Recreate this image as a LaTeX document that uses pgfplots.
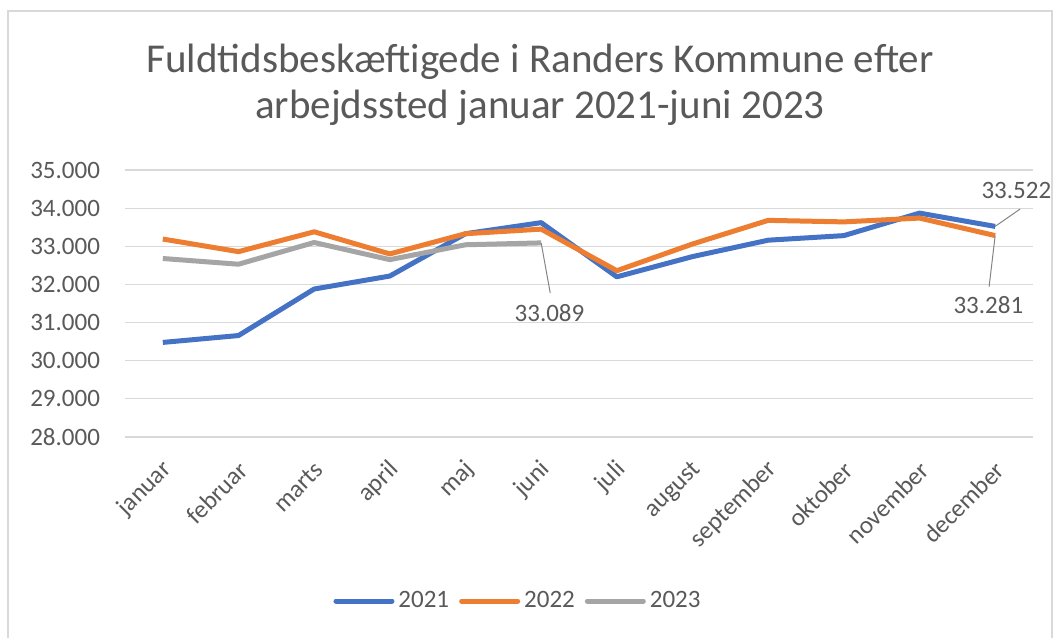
\documentclass[border=0pt]{standalone}
\usepackage{pgfplots}
\pgfplotsset{compat=1.18}
\usepackage{fontspec}
\setmainfont{Carlito}

\definecolor{c2021}{HTML}{4472C4}
\definecolor{c2022}{HTML}{ED7D31}
\definecolor{c2023}{HTML}{A5A5A5}
\definecolor{txt}{HTML}{595959}
\definecolor{gridc}{HTML}{D9D9D9}

\begin{document}
\begin{tikzpicture}
% page = 1057x638 px at 0.5pt per px, origin at the axis' lower left corner
\useasboundingbox (-62.5pt,-100.5pt) rectangle (466pt,218.5pt);
\draw[gridc, line width=0.8pt] (-58.5pt,-100.5pt) -- (-58.5pt,213pt) -- (463.5pt,213pt) -- (463.5pt,-100.5pt);

\begin{axis}[
  at={(0,0)}, anchor=south west,
  scale only axis, width=454pt, height=133.5pt,
  xmin=-0.5, xmax=11.5, ymin=28000, ymax=35000,
  xtick={0,...,11},
  xticklabels={januar,februar,marts,april,maj,juni,juli,august,september,oktober,november,december},
  ytick={28000,29000,...,35000},
  scaled y ticks=false,
  /pgf/number format/assume math mode=true,
  yticklabel={\pgfmathprintnumber[1000 sep={.}]{\tick}},
  xmajorgrids=false, ymajorgrids=true,
  grid style={draw=gridc, line width=0.6pt},
  axis line style={draw=none},
  major tick length=0pt, tick style={draw=none},
  tick label style={font=\fontsize{12.5}{14}\selectfont, text=txt},
  yticklabel style={anchor=east, xshift=-9pt},
  xticklabel style={rotate=45, anchor=east, xshift=-5pt, yshift=-12pt},
  legend style={at={(197pt,-82pt)}, anchor=center, draw=none, fill=none,
    legend columns=3, font=\fontsize{12.5}{14}\selectfont, text=txt,
    /tikz/every even column/.append style={column sep=3pt}},
  legend image code/.code={\draw[#1, line width=2.5pt, line cap=round] (0pt,0pt) -- (28pt,0pt);},
  clip=false,
]
\addplot[c2021, line width=2.5pt, line join=round] coordinates {
  (0,30480) (1,30660) (2,31880) (3,32220) (4,33330) (5,33620)
  (6,32200) (7,32730) (8,33160) (9,33280) (10,33870) (11,33522)};
\addplot[c2022, line width=2.5pt, line join=round] coordinates {
  (0,33190) (1,32860) (2,33380) (3,32800) (4,33330) (5,33450)
  (6,32360) (7,33060) (8,33680) (9,33640) (10,33740) (11,33281)};
\addplot[c2023, line width=2.5pt, line join=round] coordinates {
  (0,32680) (1,32530) (2,33100) (3,32650) (4,33040) (5,33089)};
\legend{2021,2022,2023}

% data labels with leader lines
\draw[c2023!80!black, line width=0.5pt] (axis cs:5,33089) -- (axis cs:5.12,31775);
\node[text=txt, font=\fontsize{12.5}{14}\selectfont] at (axis cs:5.11,31250) {33.089};
\draw[c2023!80!black, line width=0.5pt] (axis cs:11,33522) -- (axis cs:11.33,33977);
\node[text=txt, font=\fontsize{12.5}{14}\selectfont] at (axis cs:11.28,34476) {33.522};
\draw[c2023!80!black, line width=0.5pt] (axis cs:11,33281) -- (axis cs:10.92,31940);
\node[text=txt, font=\fontsize{12.5}{14}\selectfont] at (axis cs:10.91,31460) {33.281};
\end{axis}

\node[text=txt, font=\fontsize{20.5}{23}\selectfont] at (207.5pt,187.5pt) {Fuldtidsbeskæftigede i Randers Kommune efter};
\node[text=txt, font=\fontsize{20.5}{23}\selectfont] at (207.5pt,164.5pt) {arbejdssted januar 2021-juni 2023};
\end{tikzpicture}
\end{document}
